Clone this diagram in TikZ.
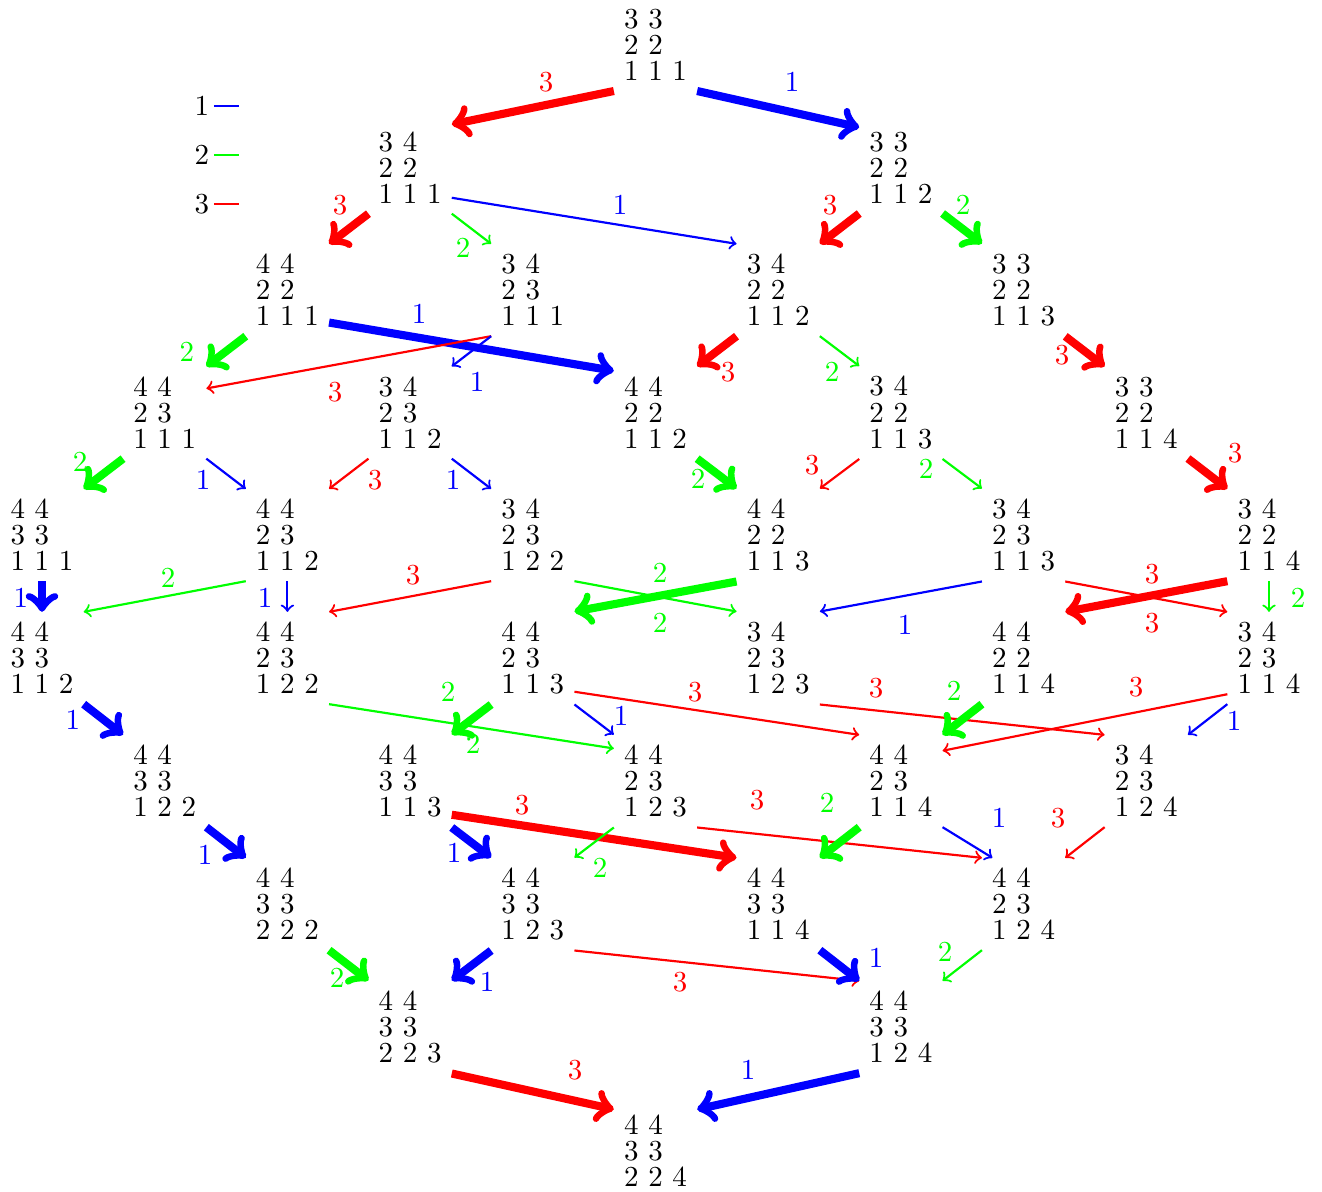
\documentclass[tikz,border=0pt]{standalone}
\definecolor{cb}{RGB}{0,0,255}
\definecolor{cg}{RGB}{0,255,0}
\definecolor{cr}{RGB}{255,0,0}
\tikzset{
  tab/.style={align=left, font=\fontsize{10}{9}\selectfont, inner sep=3.333pt},
  lab/.style={inner sep=3.333pt, font=\fontsize{10}{12}\selectfont},
  thinE/.style={->, line width=0.75pt},
  thickE/.style={->, line width=2.8pt},
  c1/.style={color=cb}, c2/.style={color=cg}, c3/.style={color=cr},
}
\newcommand{\tb}[3]{#1\\#2\\#3}
\begin{document}
\begin{tikzpicture}[x=0.3448pt,y=-0.3448pt]
\useasboundingbox (0,0) rectangle (1322,1191);
% legend
\node[lab,inner sep=0pt] (k1) at (202,106) {1};
\node[lab,inner sep=0pt] (k2) at (202,155) {2};
\node[lab,inner sep=0pt] (k3) at (202,204) {3};
\draw[c1,line width=0.75pt] (k1.east) ++(4,0) -- ++(25,0);
\draw[c2,line width=0.75pt] (k2.east) ++(4,0) -- ++(25,0);
\draw[c3,line width=0.75pt] (k3.east) ++(4,0) -- ++(25,0);
% nodes
\node[tab] (n05) at (655.5,45) {\tb{3 3}{2 2}{1 1 1}};
\node[tab] (n13) at (410.1,167.5) {\tb{3 4}{2 2}{1 1 1}};
\node[tab] (n17) at (900.9,167.5) {\tb{3 3}{2 2}{1 1 2}};
\node[tab] (n22) at (287.4,290) {\tb{4 4}{2 2}{1 1 1}};
\node[tab] (n24) at (532.8,290) {\tb{3 4}{2 3}{1 1 1}};
\node[tab] (n26) at (778.2,290) {\tb{3 4}{2 2}{1 1 2}};
\node[tab] (n28) at (1023.6,290) {\tb{3 3}{2 2}{1 1 3}};
\node[tab] (n31) at (164.7,412.5) {\tb{4 4}{2 3}{1 1 1}};
\node[tab] (n33) at (410.1,412.5) {\tb{3 4}{2 3}{1 1 2}};
\node[tab] (n35) at (655.5,412.5) {\tb{4 4}{2 2}{1 1 2}};
\node[tab] (n37) at (900.9,412.5) {\tb{3 4}{2 2}{1 1 3}};
\node[tab] (n39) at (1146.3,412.5) {\tb{3 3}{2 2}{1 1 4}};
\node[tab] (n40) at (42,535) {\tb{4 4}{3 3}{1 1 1}};
\node[tab] (n42) at (287.4,535) {\tb{4 4}{2 3}{1 1 2}};
\node[tab] (n44) at (532.8,535) {\tb{3 4}{2 3}{1 2 2}};
\node[tab] (n46) at (778.2,535) {\tb{4 4}{2 2}{1 1 3}};
\node[tab] (n48) at (1023.6,535) {\tb{3 4}{2 3}{1 1 3}};
\node[tab] (n4A) at (1269,535) {\tb{3 4}{2 2}{1 1 4}};
\node[tab] (n50) at (42,658) {\tb{4 4}{3 3}{1 1 2}};
\node[tab] (n52) at (287.4,658) {\tb{4 4}{2 3}{1 2 2}};
\node[tab] (n54) at (532.8,658) {\tb{4 4}{2 3}{1 1 3}};
\node[tab] (n56) at (778.2,658) {\tb{3 4}{2 3}{1 2 3}};
\node[tab] (n58) at (1023.6,658) {\tb{4 4}{2 2}{1 1 4}};
\node[tab] (n5A) at (1269,658) {\tb{3 4}{2 3}{1 1 4}};
\node[tab] (n61) at (164.7,781) {\tb{4 4}{3 3}{1 2 2}};
\node[tab] (n63) at (410.1,781) {\tb{4 4}{3 3}{1 1 3}};
\node[tab] (n65) at (655.5,781) {\tb{4 4}{2 3}{1 2 3}};
\node[tab] (n67) at (900.9,781) {\tb{4 4}{2 3}{1 1 4}};
\node[tab] (n69) at (1146.3,781) {\tb{3 4}{2 3}{1 2 4}};
\node[tab] (n72) at (287.4,904) {\tb{4 4}{3 3}{2 2 2}};
\node[tab] (n74) at (532.8,904) {\tb{4 4}{3 3}{1 2 3}};
\node[tab] (n76) at (778.2,904) {\tb{4 4}{3 3}{1 1 4}};
\node[tab] (n78) at (1023.6,904) {\tb{4 4}{2 3}{1 2 4}};
\node[tab] (n83) at (410.1,1027) {\tb{4 4}{3 3}{2 2 3}};
\node[tab] (n87) at (900.9,1027) {\tb{4 4}{3 3}{1 2 4}};
\node[tab] (n95) at (655.5,1151) {\tb{4 4}{3 3}{2 2 4}};
% row 0 -> 1
\draw[thickE,c3] (n05.south west) -- (n13.46) node[lab] at (546,82) {3};
\draw[thickE,c1] (n05.south east) -- (n17.136) node[lab] at (792,82) {1};
% row 1 -> 2
\draw[thickE,c3] (n13.south west) -- (n22.north east) node[lab] at (340,205) {3};
\draw[thinE,c2] (n13.south east) -- (n24.north west) node[lab] at (463,248) {2};
\draw[thinE,c1] (n13.-36.6) -- (n26.north west) node[lab] at (620,205) {1};
\draw[thickE,c3] (n17.south west) -- (n26.north east) node[lab] at (830,205) {3};
\draw[thickE,c2] (n17.south east) -- (n28.north west) node[lab] at (963,205) {2};
% row 2 -> 3
\draw[thickE,c2] (n22.south west) -- (n31.north east) node[lab] at (187,352) {2};
\draw[thickE,c1] (n22.-38.8) -- (n35.135) node[lab] at (419,314) {1};
\draw[thinE,c3] (n24.south west) -- (n31.30.8) node[lab] at (335,392) {3};
\draw[thinE,c1] (n24.south west) -- (n33.north east) node[lab] at (477,382) {1};
\draw[thickE,c3] (n26.south west) -- (n35.north east) node[lab] at (728,372) {3};
\draw[thinE,c2] (n26.south east) -- (n37.north west) node[lab] at (832,372) {2};
\draw[thickE,c3] (n28.south east) -- (n39.north west) node[lab] at (1062,355) {3};
% row 3 -> 4
\draw[thickE,c2] (n31.south west) -- (n40.north east) node[lab] at (80,462) {2};
\draw[thinE,c1] (n31.south east) -- (n42.north west) node[lab] at (203,480) {1};
\draw[thinE,c3] (n33.south west) -- (n42.north east) node[lab] at (375,480) {3};
\draw[thinE,c1] (n33.south east) -- (n44.north west) node[lab] at (453,480) {1};
\draw[thickE,c2] (n35.south east) -- (n46.north west) node[lab] at (698,479) {2};
\draw[thinE,c3] (n37.south west) -- (n46.north east) node[lab] at (812,465) {3};
\draw[thinE,c2] (n37.south east) -- (n48.north west) node[lab] at (926,469) {2};
\draw[thickE,c3] (n39.south east) -- (n4A.north west) node[lab] at (1235,453) {3};
% row 4 -> 5
\draw[thickE,c1] (n40.south) -- (n50.north) node[lab] at (21,598) {1};
\draw[thinE,c2] (n42.south west) -- (n50.north east) node[lab] at (168,578) {2};
\draw[thinE,c1] (n42.south) -- (n52.north) node[lab] at (265,598) {1};
\draw[thinE,c3] (n44.south west) -- (n52.north east) node[lab] at (413,575) {3};
\draw[thinE,c2] (n44.south east) -- (n56.north west) node[lab] at (660,623) {2};
\draw[thickE,c2] (n46.south west) -- (n54.north east) node[lab] at (660,573) {2};
\draw[thinE,c1] (n48.south west) -- (n56.north east) node[lab] at (905,625) {1};
\draw[thinE,c3] (n48.south east) -- (n5A.north west) node[lab] at (1152,623) {3};
\draw[thickE,c3] (n4A.south west) -- (n58.north east) node[lab] at (1152,574) {3};
\draw[thinE,c2] (n4A.south) -- (n5A.north) node[lab] at (1298,598) {2};
% row 5 -> 6
\draw[thickE,c1] (n50.south east) -- (n61.north west) node[lab] at (73,720) {1};
\draw[thinE,c2] (n52.south east) -- (n65.142.6) node[lab] at (473,744) {2};
\draw[thickE,c2] (n54.south west) -- (n63.north east) node[lab] at (448,692) {2};
\draw[thinE,c1] (n54.south east) -- (n65.north west) node[lab] at (621,716) {1};
\draw[thinE,c3] (n54.-39.2) -- (n67.north west) node[lab] at (695,692) {3};
\draw[thinE,c3] (n56.south east) -- (n69.north west) node[lab] at (876,688) {3};
\draw[thickE,c2] (n58.south west) -- (n67.north east) node[lab] at (954,691) {2};
\draw[thinE,c3] (n5A.-139.3) -- (n67.36.8) node[lab] at (1136,687) {3};
\draw[thinE,c1] (n5A.south west) -- (n69.north east) node[lab] at (1234,721) {1};
% row 6 -> 7
\draw[thickE,c1] (n61.south east) -- (n72.north west) node[lab] at (205,855) {1};
\draw[thickE,c3] (n63.-39.6) -- (n76.north west) node[lab] at (522,805) {3};
\draw[thickE,c1] (n63.south east) -- (n74.north west) node[lab] at (454,853) {1};
\draw[thinE,c2] (n65.south west) -- (n74.north east) node[lab] at (600,868) {2};
\draw[thinE,c3] (n65.south east) -- (n78.north west) node[lab] at (757,800) {3};
\draw[thickE,c2] (n67.south west) -- (n76.north east) node[lab] at (827,803) {2};
\draw[thinE,c1] (n67.south east) -- (n78.124.2) node[lab] at (999,818) {1};
\draw[thinE,c3] (n69.south west) -- (n78.north east) node[lab] at (1058,818) {3};
% row 7 -> 8
\draw[thickE,c2] (n72.south east) -- (n83.north west) node[lab] at (337,978) {2};
\draw[thickE,c1] (n74.south west) -- (n83.north east) node[lab] at (487,982) {1};
\draw[thinE,c3] (n74.south east) -- (n87.north west) node[lab] at (680,982) {3};
\draw[thickE,c1] (n76.south east) -- (n87.north west) node[lab] at (876,958) {1};
\draw[thinE,c2] (n78.south west) -- (n87.north east) node[lab] at (945,952) {2};
% row 8 -> 9
\draw[thickE,c3] (n83.south east) -- (n95.135) node[lab] at (575,1070) {3};
\draw[thickE,c1] (n87.south west) -- (n95.45) node[lab] at (748,1070) {1};
\end{tikzpicture}
\end{document}
